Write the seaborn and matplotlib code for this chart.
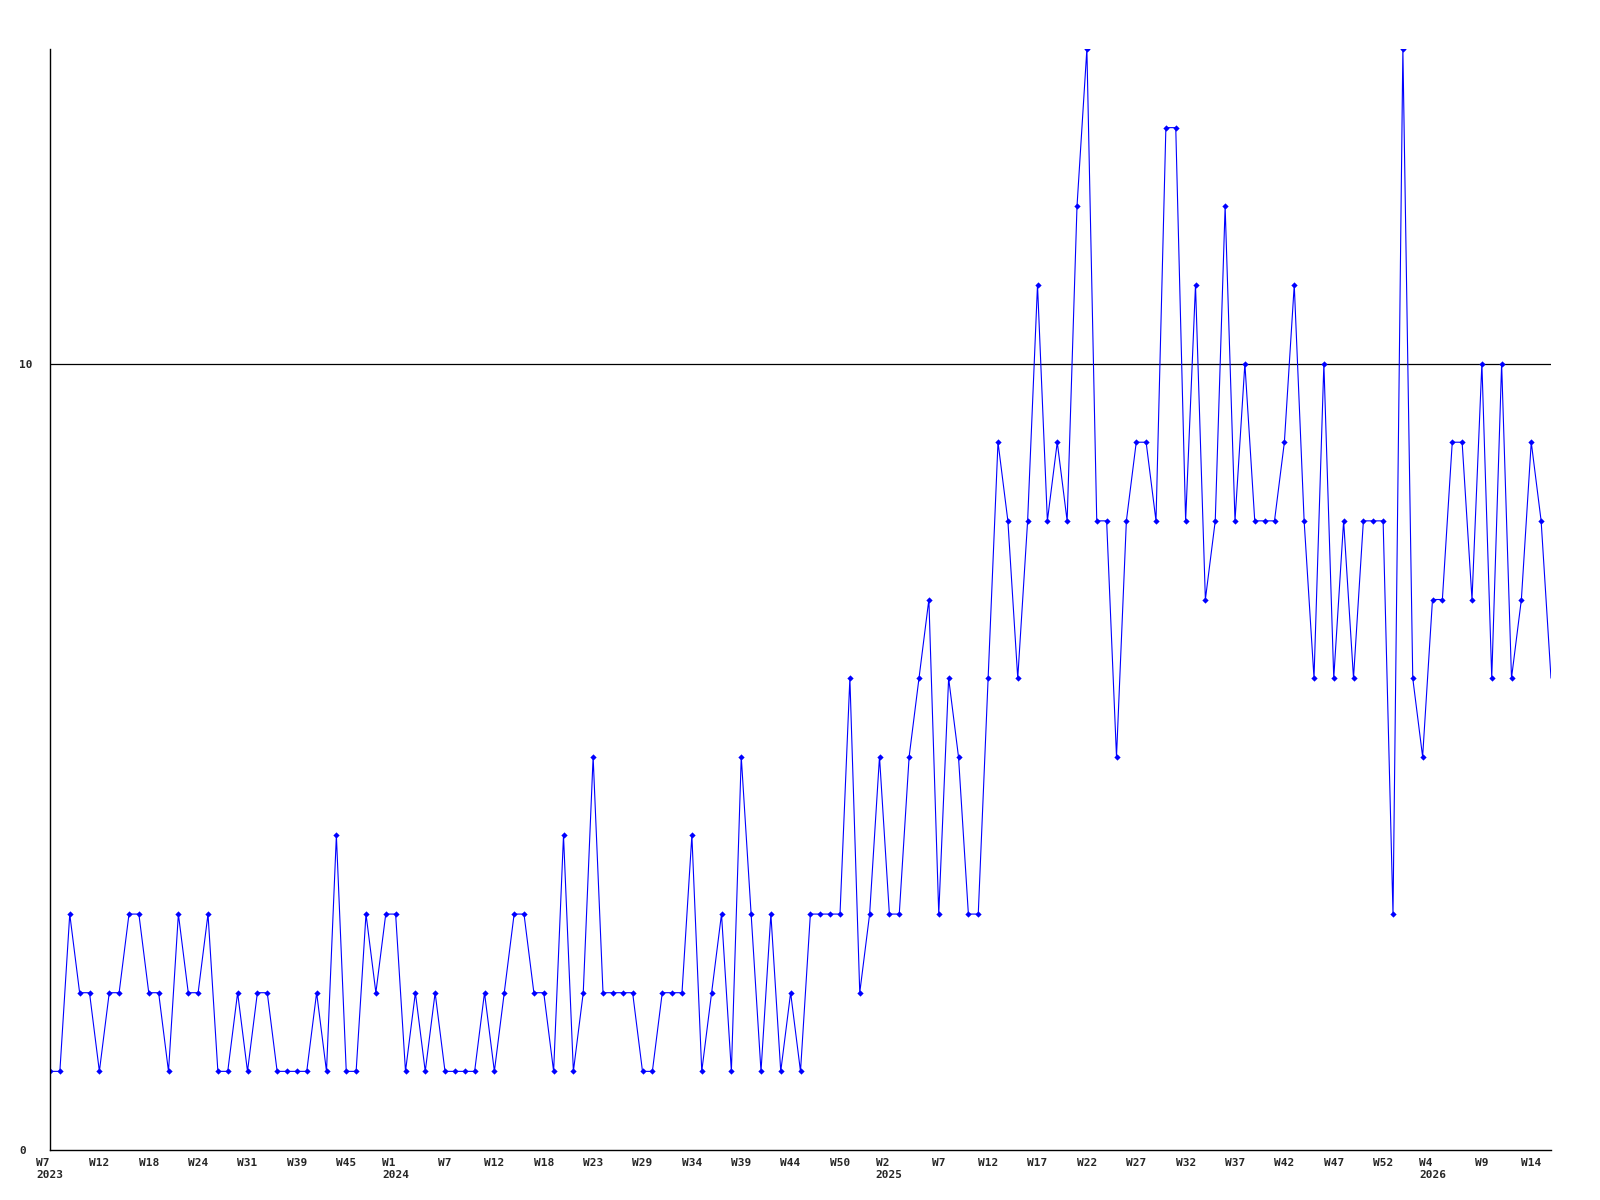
import matplotlib
matplotlib.use("Agg")
import matplotlib.pyplot as plt
import numpy as np
import pandas as pd
import seaborn as sns

# weekly counts, one entry per plotted week (2023 W7 .. 2026 W16)
counts_2023 = [1, 1, 3, 2, 2, 1, 2, 2, 3, 3, 2, 2, 1, 3, 2, 2, 3, 1, 1, 2,
               1, 2, 2, 1, 1, 1, 1, 2, 1, 4, 1, 1, 3, 2, 3]
counts_2024 = [3, 1, 2, 1, 2, 1, 1, 1, 1, 2, 1, 2, 3, 3, 2, 2, 1, 4, 1, 2,
               5, 2, 2, 2, 2, 1, 1, 2, 2, 2, 4, 1, 2, 3, 1, 5, 3, 1, 3, 1,
               2, 1, 3, 3, 3, 3, 6, 2, 3, 5]
counts_2025 = [3, 3, 5, 6, 7, 3, 6, 5, 3, 3, 6, 9, 8, 6, 8, 11, 8, 9, 8, 12,
               14, 8, 8, 5, 8, 9, 9, 8, 13, 13, 8, 11, 7, 8, 12, 8, 10, 8, 8, 8,
               9, 11, 8, 6, 10, 6, 8, 6, 8, 8, 8, 3]
counts_2026 = [14, 6, 5, 7, 7, 9, 9, 7, 10, 6, 10, 6, 7, 9, 8, 6]

counts = counts_2023 + counts_2024 + counts_2025 + counts_2026

# a label every 5th week
tick_labels = ["W7\n2023", "W12", "W18", "W24", "W31", "W39", "W45",
               "W1\n2024", "W7", "W12", "W18", "W23", "W29", "W34", "W39",
               "W44", "W50", "W2\n2025", "W7", "W12", "W17", "W22", "W27",
               "W32", "W37", "W42", "W47", "W52", "W4\n2026", "W9", "W14"]
y_ticks = [0, 10]

df = pd.DataFrame({"week": np.arange(len(counts)), "count": counts})

sns.set_style("white")
plt.rcParams["font.family"] = ["DejaVu Sans Mono"]
plt.rcParams["font.size"] = 8
plt.rcParams["font.weight"] = "bold"

fig = plt.figure(figsize=(16, 12), dpi=100)
ax = fig.add_axes([50 / 1600, 1 - 1150 / 1200, 1501 / 1600, 1101 / 1200])

ax.axhline(10, color="black", linewidth=0.9, zorder=1)
sns.lineplot(data=df, x="week", y="count", ax=ax, color="#0000ff",
             linewidth=0.8, marker="D", markersize=3.2, markeredgewidth=0,
             markevery=list(range(len(counts) - 1)), zorder=2)

ax.set_xlim(0, len(counts) - 1)
ax.set_ylim(0, 14)
ax.set_xticks(np.arange(0, len(counts), 5)[:len(tick_labels)])
ax.set_xticklabels(tick_labels, multialignment="left")
ax.set_yticks(y_ticks)
ax.set_yticklabels([str(v) for v in y_ticks])
for lab in ax.get_yticklabels():
    lab.set_horizontalalignment("left")
ax.tick_params(axis="x", length=0, pad=6)
ax.tick_params(axis="y", length=0, pad=22)
ax.set_xlabel("")
ax.set_ylabel("")

ax.spines["top"].set_visible(False)
ax.spines["right"].set_visible(False)
ax.spines["left"].set_color("black")
ax.spines["bottom"].set_color("black")
ax.spines["left"].set_linewidth(1.0)
ax.spines["bottom"].set_linewidth(1.0)

fig.savefig("out.png", dpi=100)
